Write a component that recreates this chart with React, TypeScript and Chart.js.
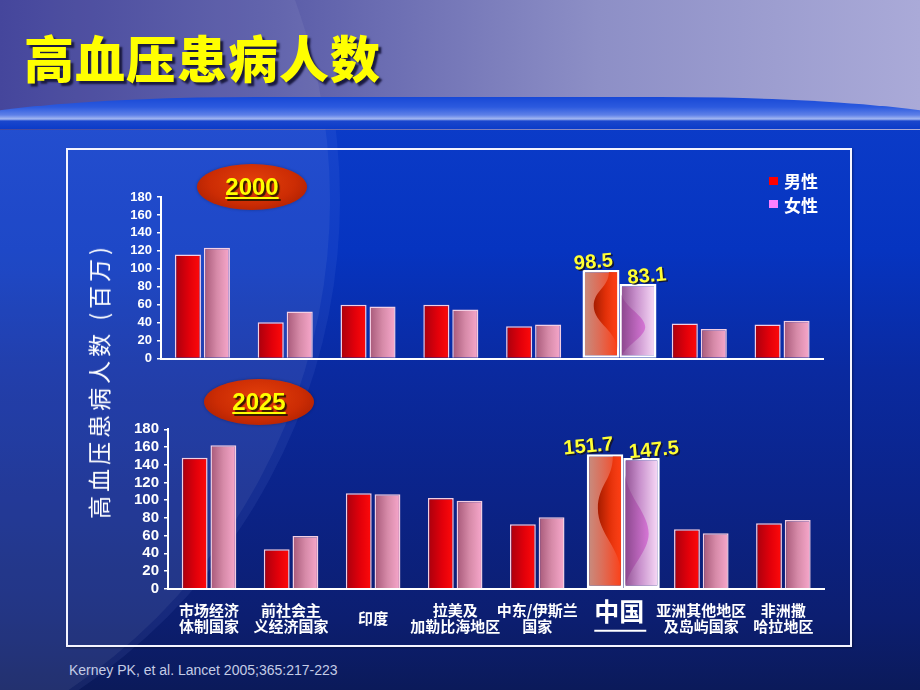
import React, { useEffect, useRef } from 'react';
import { Chart, registerables } from 'chart.js';

Chart.register(...registerables);

// ---------- data ----------
const TITLE = '高血压患病人数';
const Y_TITLE = '高血压患病人数 (百万)';
const SOURCE = 'Kerney PK, et al. Lancet 2005;365:217-223';
const SERIES = ['男性', '女性'];
const YEARS = ['2000', '2025'];
const REGIONS: (string | string[])[] = [
  ['市场经济', '体制国家'],
  ['前社会主', '义经济国家'],
  '印度',
  ['拉美及', '加勒比海地区'],
  ['中东/伊斯兰', '国家'],
  '中国',
  ['亚洲其他地区', '及岛屿国家'],
  ['非洲撒', '哈拉地区'],
];
const HIGHLIGHT = '中国';
const MALE_2000 = [116, 40.5, 60, 60, 36, 98.5, 39, 38];
const FEMALE_2000 = [123.5, 52.5, 58, 54.5, 38, 83.1, 33, 42];
const MALE_2025 = [148, 44.5, 107.7, 102.4, 72.7, 151.7, 67, 73.8];
const FEMALE_2025 = [162, 59.5, 106.6, 99.4, 80.6, 147.5, 62.5, 77.6];
const Y_MIN = 0;
const Y_MAX = 180;
const Y_STEP = 20;

// ---------- style ----------
const CJK = "'Noto Sans CJK SC', 'Noto Sans', sans-serif";
const LATIN = "'Liberation Sans', Arial, sans-serif";
const CAT_PCT = 0.7;
const BAR_PCT = 0.9;
const HI = REGIONS.indexOf(HIGHLIGHT);
const X_TICK_PAD = 22;

type Cfg = {
  showX: boolean;
  yWidth: number;
  xHeight: number;
  padding: { top: number; right: number; bottom: number; left: number };
  tickSize: number;
  china: { width: number; shift: number };
  labelShift: [number, number];
};

function barBox(chart: any, d: number, i: number, cfg: Cfg) {
  const xs = chart.scales.x;
  const n = chart.data.labels.length;
  const catW = xs.width / n;
  const center = xs.getPixelForValue(i);
  if (i === HI) {
    const w = cfg.china.width;
    const c = center + cfg.china.shift + (d === 0 ? -w / 2 : w / 2);
    return { l: c - w / 2, r: c + w / 2, c, w };
  }
  const slot = (catW * CAT_PCT) / 2;
  const w = slot * BAR_PCT;
  const c = center + (d === 0 ? -slot / 2 : slot / 2);
  return { l: c - w / 2, r: c + w / 2, c, w };
}

function grad(c: CanvasRenderingContext2D, l: number, r: number, stops: [number, string][]) {
  const g = c.createLinearGradient(l, 0, r, 0);
  stops.forEach(([o, col]) => g.addColorStop(o, col));
  return g;
}

const STOPS: Record<string, [number, string][]> = {
  m: [[0, '#a8000e'], [0.55, '#e2000a'], [1, '#ff0a0a']],
  f: [[0, '#a65878'], [0.5, '#d68aa8'], [1, '#f8a8cc']],
  mc: [[0, '#c49084'], [0.45, '#de6c56'], [1, '#ff3c12']],
  fc: [[0, '#8c4c8e'], [0.45, '#c890cc'], [1, '#fbe0fa']],
};

function makeChart(canvas: HTMLCanvasElement, male: number[], female: number[], cfg: Cfg) {
  const bg = (d: number) => (ctx: any) => {
    if (ctx.type !== 'data' || !ctx.chart.scales.x) return d === 0 ? '#e00000' : '#e890b8';
    const b = barBox(ctx.chart, d, ctx.dataIndex, cfg);
    if (!isFinite(b.l)) return d === 0 ? '#e00000' : '#e890b8';
    const key = (d === 0 ? 'm' : 'f') + (ctx.dataIndex === HI ? 'c' : '');
    return grad(ctx.chart.ctx, b.l, b.r, STOPS[key]);
  };

  const chinaPlugin = {
    id: 'china' + (cfg.showX ? 'b' : 't'),
    beforeDatasetsDraw(chart: any) {
      for (const d of [0, 1]) {
        const el = chart.getDatasetMeta(d).data[HI];
        const b = barBox(chart, d, HI, cfg);
        el.x = b.c;
        el.width = b.w;
      }
    },
    afterDatasetsDraw(chart: any) {
      const c: CanvasRenderingContext2D = chart.ctx;
      for (const d of [0, 1]) {
        const el = chart.getDatasetMeta(d).data[HI];
        const b = barBox(chart, d, HI, cfg);
        const bw = 2;
        const l = b.l + bw;
        const r = b.r - bw;
        const top = el.y + bw;
        const bot = el.base - 1;
        const w = r - l;
        const h = bot - top;
        c.save();
        c.beginPath();
        c.rect(l, top, w, h);
        c.clip();
        c.beginPath();
        if (d === 0) {
          c.moveTo(l + 0.74 * w, top);
          c.bezierCurveTo(l + 0.74 * w, top + 0.18 * h, l + 0.28 * w, top + 0.22 * h, l + 0.28 * w, top + 0.4 * h);
          c.bezierCurveTo(l + 0.28 * w, top + 0.6 * h, l + 1.0 * w, top + 0.7 * h, l + 1.0 * w, top + 0.92 * h);
          c.lineTo(r, top);
          c.closePath();
          c.fillStyle = grad(c, l + 0.28 * w, r, [[0, 'rgba(165,28,0,1)'], [0.5, 'rgba(225,45,5,0.95)'], [1, 'rgba(255,60,16,0.7)']]);
        } else {
          c.moveTo(l, top + 0.12 * h);
          c.bezierCurveTo(l + 0.1 * w, top + 0.3 * h, l + 0.72 * w, top + 0.42 * h, l + 0.72 * w, top + 0.58 * h);
          c.bezierCurveTo(l + 0.72 * w, top + 0.72 * h, l + 0.1 * w, top + 0.85 * h, l, bot);
          c.closePath();
          c.fillStyle = grad(c, l, l + 0.72 * w, [[0, 'rgba(140,70,142,0.9)'], [1, 'rgba(214,118,214,1)']]);
        }
        c.fill();
        c.restore();

        // value label
        const val = chart.data.datasets[d].data[HI];
        c.save();
        c.translate(b.c + cfg.labelShift[d], el.y - 2);
        c.rotate(-0.09);
        c.font = `bold 20px ${LATIN}`;
        c.textAlign = 'center';
        c.textBaseline = 'alphabetic';
        c.fillStyle = 'rgba(20,20,40,0.9)';
        c.fillText(String(val), 1.5, 1.5);
        c.fillStyle = '#ffff33';
        c.fillText(String(val), 0, 0);
        c.restore();
      }
    },
    afterDraw(chart: any) {
      if (!cfg.showX) return;
      const c: CanvasRenderingContext2D = chart.ctx;
      const xs = chart.scales.x;
      const cx = xs.getPixelForValue(HI) + 1;
      const y = xs.top + 42;
      c.save();
      c.strokeStyle = '#ffffff';
      c.lineWidth = 2;
      c.beginPath();
      c.moveTo(cx - 26, y);
      c.lineTo(cx + 26, y);
      c.stroke();
      c.restore();
    },
  };

  return new Chart(canvas, {
    type: 'bar',
    data: {
      labels: REGIONS as any,
      datasets: [
        {
          label: SERIES[0],
          data: male,
          backgroundColor: bg(0) as any,
          borderColor: ((ctx: any) => (ctx.dataIndex === HI ? '#ffffff' : 'rgba(255,215,230,0.95)')) as any,
          borderWidth: ((ctx: any) => (ctx.dataIndex === HI ? 2.5 : 1.5)) as any,
          borderSkipped: ((ctx: any) => (ctx.dataIndex === HI ? false : 'start')) as any,
        },
        {
          label: SERIES[1],
          data: female,
          backgroundColor: bg(1) as any,
          borderColor: ((ctx: any) => (ctx.dataIndex === HI ? '#ffffff' : 'rgba(255,215,230,0.95)')) as any,
          borderWidth: ((ctx: any) => (ctx.dataIndex === HI ? 2.5 : 1.5)) as any,
          borderSkipped: ((ctx: any) => (ctx.dataIndex === HI ? false : 'start')) as any,
        },
      ],
    },
    options: {
      responsive: false,
      animation: false,
      devicePixelRatio: 1,
      layout: { padding: cfg.padding },
      datasets: { bar: { categoryPercentage: CAT_PCT, barPercentage: BAR_PCT } },
      plugins: { legend: { display: false }, tooltip: { enabled: false } },
      scales: {
        x: {
          offset: true,
          grid: { display: false, drawTicks: false, tickLength: 0 },
          border: { display: true, color: '#ffffff', width: 2 },
          afterFit: (s: any) => {
            s.height = cfg.xHeight;
          },
          ticks: {
            display: cfg.showX,
            autoSkip: false,
            maxRotation: 0,
            minRotation: 0,
            padding: X_TICK_PAD,
            crossAlign: 'center',
            color: '#ffffff',
            font: ((ctx: any) =>
              ctx.index === HI
                ? { family: CJK, size: 25, weight: 'bold', lineHeight: 1.2 }
                : { family: CJK, size: 15, weight: 'bold', lineHeight: 1.07 }) as any,
          },
        },
        y: {
          min: Y_MIN,
          max: Y_MAX,
          afterFit: (s: any) => {
            s.width = cfg.yWidth;
          },
          grid: { drawOnChartArea: false, drawTicks: true, tickLength: 4, color: '#ffffff', lineWidth: 1.5 },
          border: { display: true, color: '#ffffff', width: 2 },
          ticks: {
            stepSize: Y_STEP,
            autoSkip: false,
            padding: 5,
            color: '#ffffff',
            font: { family: LATIN, size: cfg.tickSize, weight: 'bold', lineHeight: 1 },
          },
        },
      },
    },
    plugins: [chinaPlugin],
  } as any);
}

const badge = (left: number, top: number, text: string) => (
  <div
    style={{
      position: 'absolute',
      left,
      top,
      width: 110,
      height: 46,
      borderRadius: '50%',
      background: 'radial-gradient(ellipse at 50% 40%, #e4400a 0%, #cc2c04 55%, #9c1a02 100%)',
      display: 'flex',
      alignItems: 'center',
      justifyContent: 'center',
      boxShadow: '0 0 3px rgba(0,0,0,0.3)',
    }}
  >
    <span
      style={{
        fontFamily: LATIN,
        fontWeight: 'bold',
        fontSize: 24,
        color: '#ffff00',
        textDecoration: 'underline',
        textDecorationThickness: 2,
        textUnderlineOffset: 2,
        textShadow: '2px 2px 1px #3a1a00',
        lineHeight: '24px',
      }}
    >
      {text}
    </span>
  </div>
);

export default function App() {
  const topRef = useRef<HTMLCanvasElement>(null);
  const botRef = useRef<HTMLCanvasElement>(null);

  useEffect(() => {
    const c1 = makeChart(topRef.current!, MALE_2000, FEMALE_2000, {
      showX: false,
      yWidth: 71,
      xHeight: 0,
      padding: { top: 12, right: 16.5, bottom: 9.3, left: 0 },
      tickSize: 13,
      china: { width: 37, shift: 3 },
      labelShift: [-7, 9.5],
    });
    const c2 = makeChart(botRef.current!, MALE_2025, FEMALE_2025, {
      showX: true,
      yWidth: 78,
      xHeight: 58.3,
      padding: { top: 14.3, right: 15.6, bottom: 0, left: 0 },
      tickSize: 15,
      china: { width: 36.5, shift: 4 },
      labelShift: [-16, 13],
    });
    return () => {
      c1.destroy();
      c2.destroy();
    };
  }, []);

  return (
    <div
      style={{
        position: 'absolute',
        left: 0,
        top: 0,
        width: 920,
        height: 690,
        overflow: 'hidden',
        background:
          'linear-gradient(180deg, #0b3bc8 125px, #0634c0 250px, #0a2aa0 370px, #0b2388 500px, #0c1e70 620px, #0b1a5a 690px)',
      }}
    >
      {/* header gradient */}
      <div
        style={{
          position: 'absolute',
          left: 0,
          top: 0,
          width: 920,
          height: 130,
          background: 'linear-gradient(90deg, #3a3b96 0%, #5a5ca8 30%, #8d8fc6 65%, #aaaad8 100%)',
        }}
      />
      {/* left swoosh */}
      <div
        style={{
          position: 'absolute',
          left: -850,
          top: -390,
          width: 1180,
          height: 1180,
          borderRadius: '50%',
          background: 'rgba(255,255,255,0.06)',
        }}
      />
      {/* curved band */}
      <div
        style={{
          position: 'absolute',
          left: -60,
          top: 97,
          width: 1040,
          height: 32,
          borderTopLeftRadius: '520px 52px',
          borderTopRightRadius: '520px 52px',
          background:
            'linear-gradient(180deg, #1848d6 0px, #2c5ade 10px, #5e80e8 18px, #a4b8f2 22px, #1a46cc 24px, #0b3bc8 32px)',
        }}
      />
      {/* lower left swoosh */}
      <div
        style={{
          position: 'absolute',
          left: -840,
          top: -390,
          width: 1180,
          height: 1180,
          borderRadius: '50%',
          background: 'rgba(150,175,255,0.08)',
          clipPath: 'inset(520px 0 0 0)',
        }}
      />
      {/* title */}
      <div
        style={{
          position: 'absolute',
          left: 24,
          top: 26,
          fontFamily: CJK,
          fontWeight: 900,
          fontSize: 50,
          lineHeight: '60px',
          letterSpacing: 1,
          color: '#ffff00',
          textShadow: '3px 3px 2px #1a1a40',
          whiteSpace: 'nowrap',
        }}
      >
        {TITLE}
      </div>
      {/* frame */}
      <div
        style={{
          position: 'absolute',
          left: 66,
          top: 148,
          width: 786,
          height: 499,
          boxSizing: 'border-box',
          border: '2px solid #f4f4ff',
          boxShadow: '1px 1px 2px rgba(0,0,0,0.35)',
        }}
      />
      <canvas ref={topRef} width={750} height={185} style={{ position: 'absolute', left: 90, top: 185 }} />
      <canvas ref={botRef} width={750} height={232} style={{ position: 'absolute', left: 90, top: 415 }} />
      {badge(197, 164, YEARS[0])}
      {badge(204, 379, YEARS[1])}
      {/* legend */}
      <div style={{ position: 'absolute', left: 769, top: 177, width: 9, height: 8, background: '#ff0000' }} />
      <div
        style={{
          position: 'absolute',
          left: 784,
          top: 169,
          fontFamily: CJK,
          fontWeight: 'bold',
          fontSize: 17,
          lineHeight: '24px',
          color: '#ffffff',
        }}
      >
        {SERIES[0]}
      </div>
      <div style={{ position: 'absolute', left: 769, top: 200, width: 9, height: 8, background: '#ff80ff' }} />
      <div
        style={{
          position: 'absolute',
          left: 784,
          top: 193,
          fontFamily: CJK,
          fontWeight: 'bold',
          fontSize: 17,
          lineHeight: '24px',
          color: '#ffffff',
        }}
      >
        {SERIES[1]}
      </div>
      {/* y title */}
      <div
        style={{
          position: 'absolute',
          left: 98,
          top: 381,
          transform: 'translate(-50%, -50%) rotate(-90deg)',
          fontFamily: CJK,
          fontSize: 23,
          letterSpacing: 4,
          color: '#ffffff',
          whiteSpace: 'nowrap',
          lineHeight: '26px',
        }}
      >
        {Y_TITLE}
      </div>
      {/* source */}
      <div
        style={{
          position: 'absolute',
          left: 69,
          top: 662,
          fontFamily: LATIN,
          fontSize: 14,
          color: '#c4cce6',
          whiteSpace: 'nowrap',
        }}
      >
        {SOURCE}
      </div>
    </div>
  );
}
